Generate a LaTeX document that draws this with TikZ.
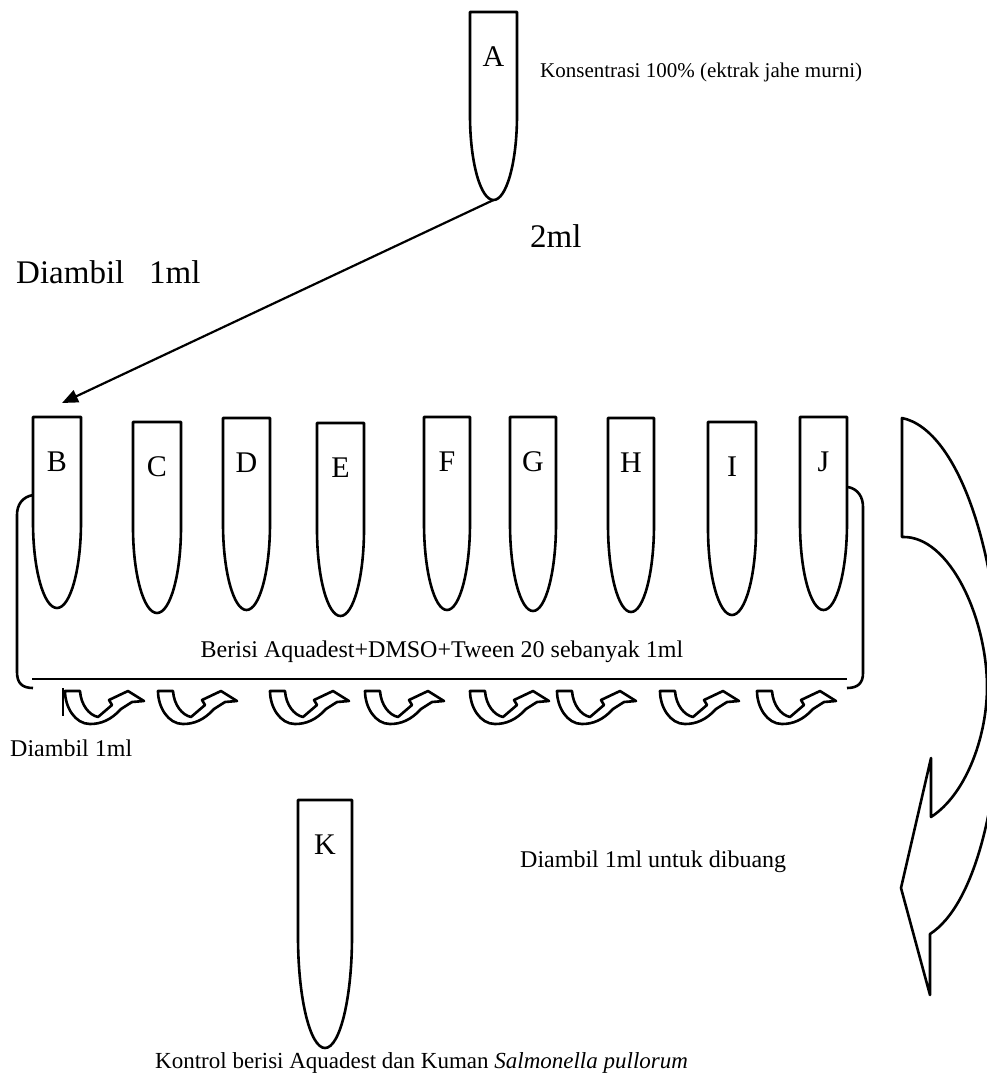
\documentclass[tikz,border=0pt]{standalone}
\usepackage{fontspec}
\setmainfont{Liberation Serif}
\usetikzlibrary{arrows.meta}

\tikzset{
  tube/.style={line width=2.6pt, line join=round},
  tubelabel/.style={font=\fontsize{30}{34}\selectfont, inner sep=0pt},
  note/.style={font=\fontsize{24}{28}\selectfont, anchor=west, inner sep=0pt},
  bignote/.style={font=\fontsize{33}{38}\selectfont, anchor=west, inner sep=0pt},
  swirl/.pic={
    \draw[line width=2.6pt, line join=round] (0,0) -- (15,0)
      .. controls (16,14) and (24,24) .. (33,26) -- (47,14) -- (44,9)
      -- (63,0) -- (79,10) -- (67,11) -- (56,18)
      .. controls (46,29) and (36,33) .. (25,33)
      .. controls (10,33) and (0,16) .. (0,0) -- cycle;
  }
}

% name, left, right, top, tip
\newcommand{\tube}[5]{%
  \pgfmathsetmacro\tubex{(#2+#3)/2}
  \pgfmathsetmacro\tuberx{(#3-#2)/2}
  \pgfmathsetmacro\tubebend{#4+0.55*(#5-#4)}
  \pgfmathsetmacro\tubery{#5-\tubebend}
  \draw[tube] (#2,#4) -- (#2,\tubebend)
    arc[start angle=180, end angle=0, x radius=\tuberx, y radius=\tubery]
    -- (#3,#4) -- cycle;
  \node[tubelabel] (#1) at (\tubex,#4+45) {#1};
  \coordinate (#1-tip) at (\tubex,#5);
  \coordinate (#1-top) at (\tubex,#4);
}

\begin{document}
\begin{tikzpicture}[x=1pt, y=-1pt]
  \useasboundingbox (0,0) rectangle (987,1077);

  \tube{A}{470}{517}{12}{200}
  \foreach \n/\l/\r/\t/\b in {B/33/81/417/608, C/133/181/422/613,
      D/223/270/418/610, E/317/364/423/616, F/424/470/417/610,
      G/510/556/417/611, H/608/654/418/612, I/708/756/422/615,
      J/800/847/417/610}
    {\tube{\n}{\l}{\r}{\t}{\b}}
  \tube{K}{298}{352}{800}{1048}

  \node[note, font=\fontsize{21}{25}\selectfont] (conc) at (540,72) {Konsentrasi 100\% (ektrak jahe murni)};
  \node[bignote] (twoml) at (530,236) {2ml};
  \node[bignote] (takeA) at (16,272) {Diambil\ \ \ 1ml};

  \coordinate (B-drop) at (62,403);
  \draw[line width=2.2pt, -{Triangle[length=16pt, width=13pt]}] (A-tip) -- (B-drop);

  % bracket round the row
  \draw[tube] (33,495) .. controls (22,497) and (17,505) .. (17,515) -- (17,672)
    .. controls (17,683) and (22,688) .. (33,688);
  \draw[tube] (848,487) .. controls (858,489) and (863,497) .. (863,507) -- (863,673)
    .. controls (863,683) and (858,688) .. (847,688);
  \draw[tube] (32,679) -- (847,679);
  \node[note, anchor=center] (fill) at (442,652) {Berisi Aquadest+DMSO+Tween 20 sebanyak 1ml};

  \foreach \sx in {65,158,270,365,470,557,660,757}
    \pic at (\sx,691) {swirl};
  \draw[line width=2.6pt] (63,688) -- (63,716);
  \node[note] (takeB) at (10,748) {Diambil 1ml};

  % big turning arrow
  \draw[tube] (902,418) -- (902,537)
    .. controls (950,535) and (988,620) .. (987,690)
    .. controls (986,740) and (965,795) .. (931,817)
    -- (931,758) -- (901,888) -- (930,995) -- (930,934)
    .. controls (975,905) and (1000,800) .. (1000,690)
    .. controls (1000,560) and (960,430) .. (902,418) -- cycle;
  \node[note] (discard) at (520,862) {Diambil 1ml untuk dibuang};

  \node[note, font=\fontsize{23}{27}\selectfont] (control) at (155,1063) {Kontrol berisi Aquadest dan Kuman \textit{Salmonella pullorum}};
\end{tikzpicture}
\end{document}
